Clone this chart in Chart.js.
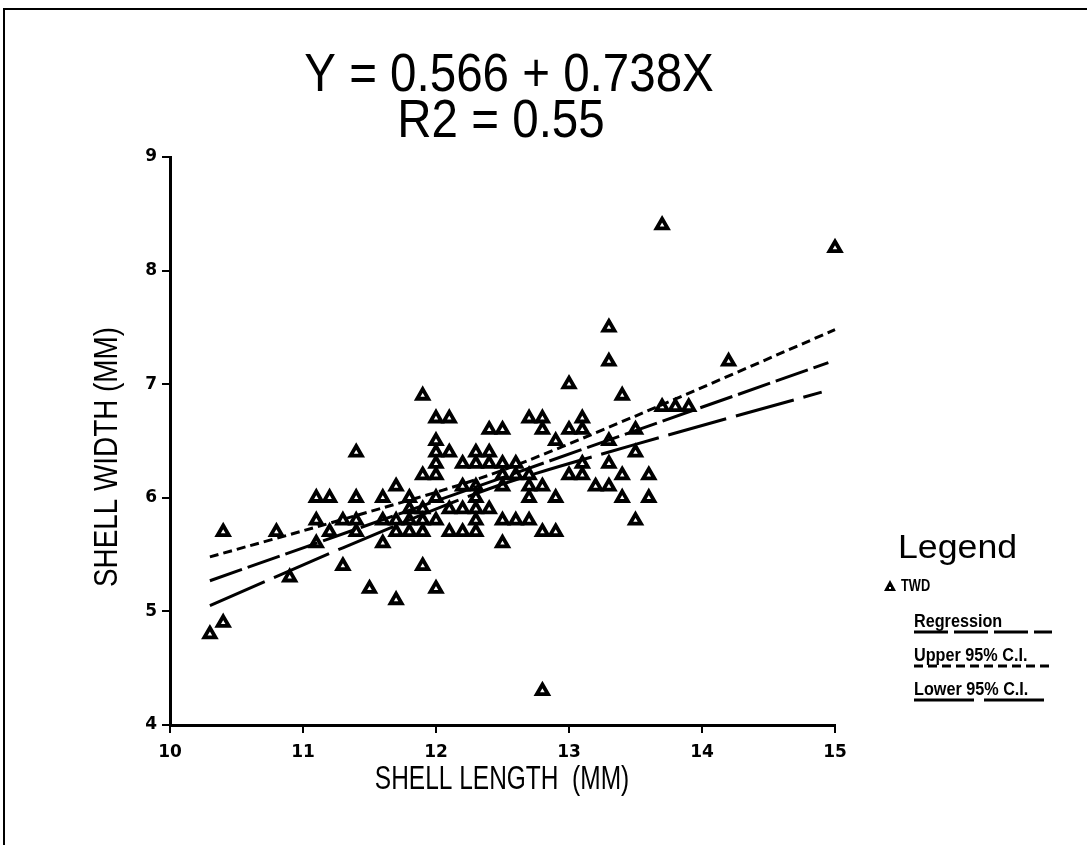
<!DOCTYPE html>
<html>
<head>
<meta charset="utf-8">
<title>Shell width vs shell length</title>
<script src="https://cdn.jsdelivr.net/npm/chart.js@4.4.1/dist/chart.umd.min.js"></script>
<style>
  html, body { margin: 0; padding: 0; background: #fff; }
  #wrap { position: relative; width: 1087px; height: 845px; }
</style>
</head>
<body>
<div id="wrap"><canvas id="shellChart"></canvas></div>
<script>
// TWD shells, length and width in mm (one entry per shell)
const twdLength = [
  10.3, 10.4, 10.4, 10.8, 10.9,
  11.1, 11.1, 11.1, 11.2, 11.2, 11.3, 11.3, 11.4, 11.4, 11.4, 11.4, 11.5,
  11.6, 11.6, 11.6, 11.7, 11.7, 11.7, 11.7, 11.8, 11.8, 11.8, 11.8,
  11.9, 11.9, 11.9, 11.9, 11.9, 11.9,
  12.0, 12.0, 12.0, 12.0, 12.0, 12.0, 12.0, 12.0,
  12.1, 12.1, 12.1, 12.1, 12.2, 12.2, 12.2, 12.2,
  12.3, 12.3, 12.3, 12.3, 12.3, 12.3, 12.3, 12.4, 12.4, 12.4, 12.4,
  12.5, 12.5, 12.5, 12.5, 12.5, 12.5, 12.6, 12.6, 12.6,
  12.7, 12.7, 12.7, 12.7, 12.7, 12.8, 12.8, 12.8, 12.8, 12.8, 12.9, 12.9, 12.9,
  13.0, 13.0, 13.0, 13.1, 13.1, 13.1, 13.1, 13.2, 13.3, 13.3, 13.3, 13.3, 13.3,
  13.4, 13.4, 13.4, 13.5, 13.5, 13.5, 13.6, 13.6, 13.7, 13.7, 13.8, 13.9, 14.2, 15.0
];
const twdWidth = [
  4.8, 4.9, 5.7, 5.7, 5.3,
  6.0, 5.8, 5.6, 6.0, 5.7, 5.8, 5.4, 6.4, 6.0, 5.8, 5.7, 5.2,
  6.0, 5.8, 5.6, 6.1, 5.8, 5.7, 5.1, 6.0, 5.9, 5.8, 5.7,
  6.9, 6.2, 5.9, 5.8, 5.7, 5.4,
  6.7, 6.5, 6.4, 6.3, 6.2, 6.0, 5.8, 5.2,
  6.7, 6.4, 5.9, 5.7, 6.3, 6.1, 5.9, 5.7,
  6.4, 6.3, 6.1, 6.0, 5.9, 5.8, 5.7, 6.6, 6.4, 6.3, 5.9,
  6.6, 6.3, 6.2, 6.1, 5.8, 5.6, 6.3, 6.2, 5.8,
  6.7, 6.2, 6.1, 6.0, 5.8, 6.7, 6.6, 6.1, 5.7, 4.3, 6.5, 6.0, 5.7,
  7.0, 6.6, 6.2, 6.7, 6.6, 6.3, 6.2, 6.1, 7.5, 7.2, 6.5, 6.3, 6.1,
  6.9, 6.2, 6.0, 6.6, 6.4, 5.8, 6.2, 6.0, 8.4, 6.8, 6.8, 6.8, 7.2, 8.2
];

// fitted line and its 95% confidence limits
const regLength = [10.3, 14.95];
const regWidth = [5.27, 7.19];
const upperLength = [10.3, 11.3, 12.4, 13.5, 15.0];
const upperWidth = [5.48, 5.81, 6.20, 6.72, 7.48];
const lowerLength = [10.3, 11.3, 12.4, 13.5, 14.9];
const lowerWidth = [5.05, 5.56, 6.08, 6.47, 6.93];

const xTicks = [10, 11, 12, 13, 14, 15];
const yTicks = [4, 5, 6, 7, 8, 9];

const titleLines = ["Y = 0.566 + 0.738X", "R2 = 0.55"];
const xTitle = "SHELL LENGTH  (MM)";
const yTitle = "SHELL WIDTH (MM)";
const legendRows = [
  { label: "Regression", dash: [34, 6] },
  { label: "Upper 95% C.I.", dash: [9, 5] },
  { label: "Lower 95% C.I.", dash: [60, 10] }
];

const pairs = (xs, ys) => xs.map((x, i) => ({ x: x, y: ys[i] }));

// text drawn narrower than the font's normal width
function narrowText(ctx, text, x, y, font, sx, align) {
  ctx.save();
  ctx.font = font;
  ctx.fillStyle = "#000";
  ctx.textAlign = align || "center";
  ctx.textBaseline = "alphabetic";
  ctx.translate(x, y);
  ctx.scale(sx, 1);
  ctx.fillText(text, 0, 0);
  ctx.restore();
}

const decorations = {
  id: "decorations",
  afterDraw(chart) {
    const ctx = chart.ctx;

    // page frame
    ctx.save();
    ctx.strokeStyle = "#000";
    ctx.lineWidth = 2;
    ctx.strokeRect(4, 9, 1200, 1000);
    ctx.restore();

    // equation heading
    narrowText(ctx, titleLines[0], 509, 91, "54px 'Liberation Sans'", 0.88);
    narrowText(ctx, titleLines[1], 501, 137, "54px 'Liberation Sans'", 0.88);

    // axis titles
    narrowText(ctx, xTitle, 502, 789, "34px 'Liberation Sans'", 0.72);
    ctx.save();
    ctx.translate(117, 457);
    ctx.rotate(-Math.PI / 2);
    narrowText(ctx, yTitle, 0, 0, "34px 'Liberation Sans'", 0.82);
    ctx.restore();

    // legend block
    narrowText(ctx, "Legend", 898, 558, "34px 'Liberation Sans'", 1.05, "left");

    ctx.save();
    ctx.fillStyle = "#000";
    ctx.beginPath();
    ctx.moveTo(890, 580);
    ctx.lineTo(896, 591);
    ctx.lineTo(884, 591);
    ctx.closePath();
    ctx.fill();
    ctx.fillStyle = "#fff";
    ctx.fillRect(889, 587, 2, 2);
    ctx.restore();
    narrowText(ctx, "TWD", 901, 591, "bold 16px 'Liberation Sans'", 0.8, "left");

    legendRows.forEach((row, i) => {
      const y = 627 + i * 34;
      narrowText(ctx, row.label, 914, y, "bold 18px 'Liberation Sans'", 0.9, "left");
      ctx.save();
      ctx.strokeStyle = "#000";
      ctx.lineWidth = 3;
      ctx.setLineDash(row.dash);
      ctx.beginPath();
      ctx.moveTo(914, y + 5);
      ctx.lineTo(1052, y + 5);
      ctx.stroke();
      ctx.restore();
    });
  }
};

const tickFont = { family: "'DejaVu Sans'", weight: "bold", size: 17 };

new Chart(document.getElementById("shellChart"), {
  type: "scatter",
  data: {
    datasets: [
      {
        label: "Regression",
        data: pairs(regLength, regWidth),
        showLine: true,
        borderColor: "#000",
        borderWidth: 3,
        borderDash: legendRows[0].dash,
        pointRadius: 0,
        clip: false,
        order: 1
      },
      {
        label: "Upper 95% C.I.",
        data: pairs(upperLength, upperWidth),
        showLine: true,
        borderColor: "#000",
        borderWidth: 3,
        borderDash: legendRows[1].dash,
        pointRadius: 0,
        tension: 0.3,
        clip: false,
        order: 1
      },
      {
        label: "Lower 95% C.I.",
        data: pairs(lowerLength, lowerWidth),
        showLine: true,
        borderColor: "#000",
        borderWidth: 3,
        borderDash: legendRows[2].dash,
        pointRadius: 0,
        tension: 0.3,
        clip: false,
        order: 1
      },
      {
        label: "TWD",
        data: pairs(twdLength, twdWidth),
        pointStyle: "triangle",
        pointRadius: 6.4,
        borderWidth: 3.8,
        borderColor: "#000",
        backgroundColor: "#fff",
        clip: false,
        order: 2
      }
    ]
  },
  options: {
    responsive: true,
    maintainAspectRatio: false,
    animation: false,
    layout: { padding: { top: 157, right: 252, bottom: 0, left: 0 } },
    plugins: {
      legend: { display: false },
      tooltip: { enabled: false }
    },
    scales: {
      x: {
        type: "linear",
        min: 10,
        max: 15,
        afterFit: s => { s.height = 120; },
        afterBuildTicks: s => { s.ticks = xTicks.map(v => ({ value: v })); },
        border: { color: "#000", width: 3 },
        grid: { drawOnChartArea: false, color: "#000", lineWidth: 2, tickLength: 8 },
        ticks: { color: "#000", font: tickFont, padding: 9, maxRotation: 0, autoSkip: false }
      },
      y: {
        type: "linear",
        min: 4,
        max: 9,
        afterFit: s => { s.width = 170; },
        afterBuildTicks: s => { s.ticks = yTicks.map(v => ({ value: v })); },
        border: { color: "#000", width: 3 },
        grid: { drawOnChartArea: false, color: "#000", lineWidth: 2, tickLength: 8 },
        ticks: { color: "#000", font: tickFont, padding: 5, autoSkip: false }
      }
    }
  },
  plugins: [decorations]
});
</script>
</body>
</html>
